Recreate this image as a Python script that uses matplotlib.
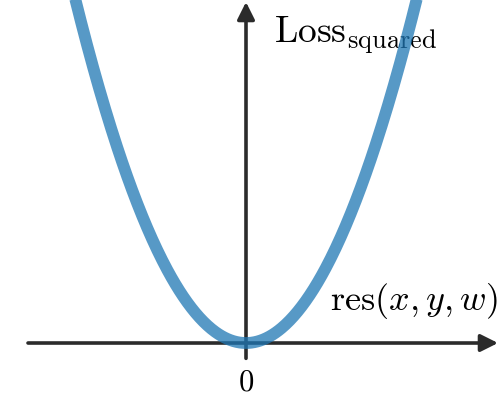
import numpy as np
import matplotlib
matplotlib.use("Agg")
import matplotlib.pyplot as plt

plt.rcParams['mathtext.fontset'] = 'cm'

# data
x_min, x_max = -2.0, 2.0
n_points = 400
tick_labels = [r"$0$"]
y_label = r"$\mathrm{Loss}_{\mathrm{squared}}$"
x_label = r"$\mathrm{res}(x,y,w)$"

res = np.linspace(x_min, x_max, n_points)
loss = res ** 2

fig = plt.figure(figsize=(5, 4), dpi=100)
ax = fig.add_axes([0, 0, 1, 1])
ax.set_xlim(-2.46, 2.54)
ax.set_ylim(-0.483, 2.907)
ax.axis('off')

axis_col = '#2b2b2b'
# x axis
ax.annotate('', xy=(2.52, 0), xytext=(-2.18, 0),
            arrowprops=dict(arrowstyle='-|>', lw=2.6, color=axis_col,
                            mutation_scale=26, shrinkA=0, shrinkB=0))
# y axis
ax.annotate('', xy=(0, 2.89), xytext=(0, -0.13),
            arrowprops=dict(arrowstyle='-|>', lw=2.6, color=axis_col,
                            mutation_scale=26, shrinkA=0, shrinkB=0))

ax.plot(res, loss, color='#1f77b4', alpha=0.75, lw=8.5, solid_capstyle='butt', zorder=5)

ax.text(0, -0.33, tick_labels[0], ha='center', va='center', fontsize=22)
ax.text(0.28, 2.61, y_label, ha='left', va='center', fontsize=27)
ax.text(2.52, 0.36, x_label, ha='right', va='center', fontsize=26)

fig.savefig('out.png', dpi=100)
